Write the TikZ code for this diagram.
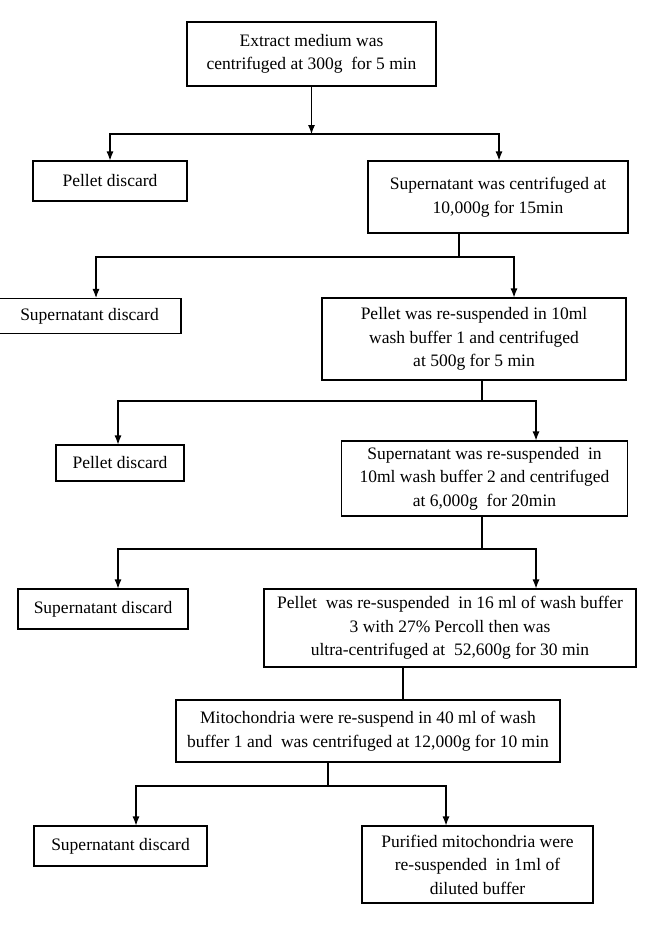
\documentclass[tikz,border=0pt]{standalone}
\usepackage{fontspec}
\setmainfont{Liberation Serif}
\usetikzlibrary{arrows.meta}
\begin{document}
\begin{tikzpicture}[x=1pt,y=-1pt,
  box/.style={draw, line width=1.1pt, rectangle, inner sep=0pt, align=center,
    font=\fontsize{17.5}{23.5}\selectfont},
  link/.style={line width=1.1pt},
  arr/.style={line width=1.1pt, -{Latex[length=9pt,width=7pt]}}]
\useasboundingbox (0,0) rectangle (650,940);
% boxes
\node[box, minimum width=249pt, minimum height=64pt] (A) at (311.5,54)
  {Extract medium was\\ centrifuged at 300g\ \ for 5 min};
\node[box, minimum width=154pt, minimum height=40pt] (B) at (110,181) {Pellet discard};
\node[box, minimum width=260pt, minimum height=72pt] (C) at (498,197)
  {Supernatant was centrifuged at\\ 10,000g for 15min};
\node[box, minimum width=183pt, minimum height=35pt] (D) at (89.5,316) {Supernatant discard};
\node[box, minimum width=304pt, minimum height=82pt] (E) at (474,339)
  {Pellet was re-suspended in 10ml\\ wash buffer 1 and centrifuged\\ at 500g for 5 min};
\node[box, minimum width=128pt, minimum height=36pt] (F) at (120,463) {Pellet discard};
\node[box, minimum width=286pt, minimum height=75pt] (G) at (484.5,478.5)
  {Supernatant was re-suspended\ \ in\\ 10ml wash buffer 2 and centrifuged\\ at 6,000g\ \ for 20min};
\node[box, minimum width=170pt, minimum height=40pt] (H) at (103,609) {Supernatant discard};
\node[box, minimum width=372pt, minimum height=78pt] (I) at (450,628)
  {Pellet\ \ was re-suspended\ \ in 16 ml of wash buffer\\ 3 with 27\% Percoll then was\\ ultra-centrifuged at\ \ 52,600g for 30 min};
\node[box, minimum width=384pt, minimum height=62pt] (J) at (368,731)
  {Mitochondria were re-suspend in 40 ml of wash\\ buffer 1 and\ \ was centrifuged at 12,000g for 10 min};
\node[box, minimum width=173pt, minimum height=40pt] (K) at (120.5,846) {Supernatant discard};
\node[box, minimum width=231pt, minimum height=77pt] (L) at (477.5,864.5)
  {Purified mitochondria were\\ re-suspended\ \ in 1ml of\\ diluted buffer};
% junctions
\coordinate (j1) at (311.5,134);
\coordinate (j2) at (459,257);
\coordinate (j3) at (482,401);
\coordinate (j4) at (482,549);
\coordinate (j5) at (403,700);
\coordinate (j6) at (328,786);
% connectors
\draw[arr] (A.south) -- (j1);
\draw[arr] (j1) -| (B.north);
\draw[arr] (j1) -| ([xshift=1pt]C.north);
\draw[link] (C.south -| j2) -- (j2);
\draw[arr] (j2) -| ([xshift=6.5pt]D.north);
\draw[arr] (j2) -| ([xshift=40pt]E.north);
\draw[link] (E.south -| j3) -- (j3);
\draw[arr] (j3) -| ([xshift=-2pt]F.north);
\draw[arr] (j3) -| ([xshift=51.5pt]G.north);
\draw[link] (G.south -| j4) -- (j4);
\draw[arr] (j4) -| ([xshift=15pt]H.north);
\draw[arr] (j4) -| ([xshift=86pt]I.north);
\draw[link] (I.south -| j5) -- (j5);
\draw[link] (J.south -| j6) -- (j6);
\draw[arr] (j6) -| ([xshift=15.5pt]K.north);
\draw[arr] (j6) -| ([xshift=-31.5pt]L.north);
\end{tikzpicture}
\end{document}
